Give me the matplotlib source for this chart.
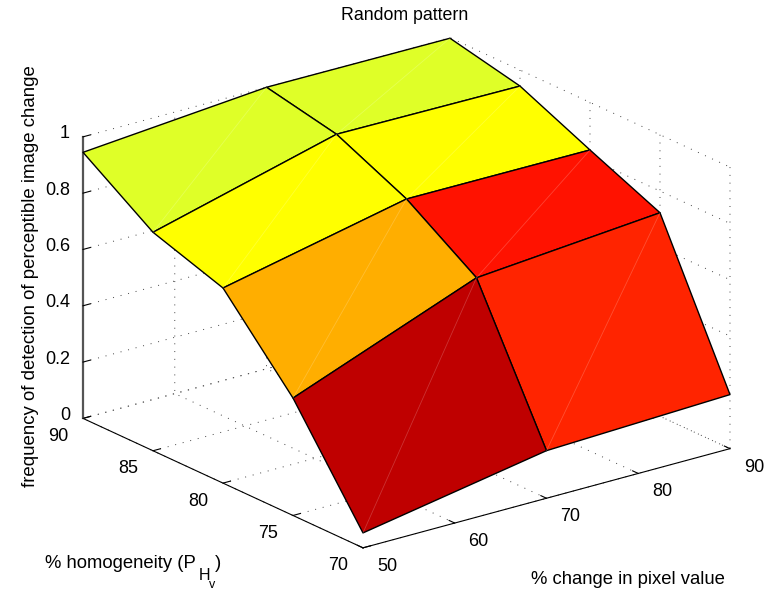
import numpy as np
import matplotlib
matplotlib.use('Agg')
import matplotlib.pyplot as plt
from matplotlib.colors import to_rgba
from mpl_toolkits.mplot3d import proj3d

plt.rcParams['font.family'] = ['Liberation Sans', 'DejaVu Sans']

# values
pixel_change = [50, 70, 90]
homogeneity = [70, 75, 80, 85, 90]
# rows follow homogeneity, columns follow pixel_change
detection = [
    [0.053, 0.169, 0.192],
    [0.417, 0.668, 0.723],
    [0.693, 0.833, 0.831],
    [0.776, 0.948, 0.943],
    [0.945, 1.000, 0.998],
]
face_colors = [
    ['#bf0000', '#ff2400'],
    ['#ffae00', '#ff1200'],
    ['#ffff00', '#ffff00'],
    ['#dfff28', '#dfff28'],
]
x_ticks = [50, 60, 70, 80, 90]
y_ticks = [70, 75, 80, 85, 90]
z_ticks = [0, 0.2, 0.4, 0.6, 0.8, 1]
z_tick_labels = ['0', '0.2', '0.4', '0.6', '0.8', '1']

W, H = 774, 592
fig = plt.figure(figsize=(W / 100, H / 100), dpi=100)
ax = fig.add_axes([102.5 / W, -4.75 / H, 592 / W, 1], projection='3d', proj_type='ortho')
ax.computed_zorder = False
ax.patch.set_alpha(0)
ax.set_box_aspect((462, 461, 301), zoom=1.1785)
ax.view_init(elev=20.7, azim=-127.4)

X, Y = np.meshgrid(pixel_change, homogeneity)
Z = np.array(detection)
colors = np.array([[to_rgba(c) for c in row] for row in face_colors])
surf = ax.plot_surface(X, Y, Z, facecolors=colors, rstride=1, cstride=1, shade=False,
                       edgecolor='black', linewidth=1.0, antialiased=True, zorder=2)
surf.set_clip_on(False)

# faint seams where the faces were split into triangles
for i in range(Z.shape[0] - 1):
    for j in range(Z.shape[1] - 1):
        seam, = ax.plot([X[i, j], X[i + 1, j + 1]], [Y[i, j], Y[i + 1, j + 1]], [Z[i, j], Z[i + 1, j + 1]],
                        color='white', alpha=0.2, linewidth=0.6, zorder=3)
        seam.set_clip_on(False)

ax.set_xlim(50, 90)
ax.set_ylim(70, 90)
ax.set_zlim(0, 1)
ax.set_xticks(x_ticks)
ax.set_yticks(y_ticks)
ax.set_zticks(z_ticks)
ax.set_xticklabels([])
ax.set_yticklabels([])
ax.set_zticklabels([])

for axis in (ax.xaxis, ax.yaxis, ax.zaxis):
    axis.set_pane_color((1, 1, 1, 0))
    axis.pane.set_edgecolor((1, 1, 1, 0))
    axis._axinfo['grid'].update(color='#444444', linestyle=(0, (1, 7)), linewidth=0.7)
    axis._axinfo['tick'].update(inward_factor=0.0, outward_factor=0.25)
    axis._axinfo['axisline']['color'] = 'black'
    axis._axinfo['axisline']['linewidth'] = 1.0
ax.zaxis.line.set_color('#555555')
ax.zaxis.line.set_linewidth(1.6)

# tick labels hang off the projected axis points, offsets in pixels
def tick_label(x, y, z, s, dx, dy, ha='center'):
    px, py, _ = proj3d.proj_transform(x, y, z, ax.get_proj())
    ax.annotate(s, xy=(px, py), xycoords='data', xytext=(dx, dy), textcoords='offset pixels',
                fontsize=13, ha=ha, va='center', annotation_clip=False)

for v in x_ticks:
    tick_label(v, 70, 0, str(v), 24, -18.5)
for v in y_ticks:
    tick_label(50, v, 0, str(v), -25, -18)
for v, s in zip(z_ticks, z_tick_labels):
    tick_label(50, 90, v, s, -13, 3, ha='right')

def label(x, y, s, **kw):
    fig.text(x / W, 1 - y / H, s, **kw)

label(405, 16, 'Random pattern', fontsize=12.8, ha='center', va='center')
label(31, 276, 'frequency of detection of perceptible image change', fontsize=13.4,
      rotation=90, ha='center', va='center')
label(628, 579, '% change in pixel value', fontsize=13.3, ha='center', va='center')
label(45, 564, '% homogeneity (P', fontsize=13.3, ha='left', va='center')
label(199, 575, 'H', fontsize=11.5, ha='left', va='center')
label(209, 591, 'v', fontsize=9, ha='left', va='bottom')
label(215, 564, ')', fontsize=13.3, ha='left', va='center')

fig.savefig('out.png', dpi=100)
